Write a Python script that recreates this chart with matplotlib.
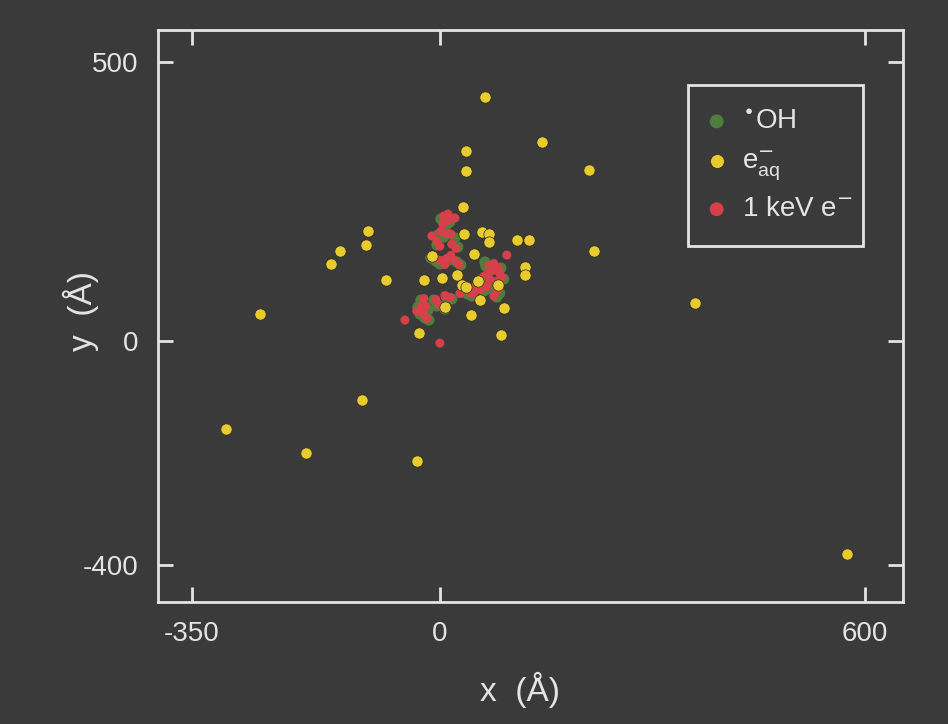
import matplotlib.pyplot as plt
from matplotlib.patches import Rectangle

plt.rcParams['font.family'] = ['Liberation Sans', 'DejaVu Sans']
plt.rcParams['axes.unicode_minus'] = False

BG = '#3a3a3a'
FG = '#e4e4e4'

# e-_aq positions (A)
eaq_x = [63.5, 36.7, 144, 36.7, 210, 32.5, 217, -102, -104.5, -141, -154, -76, -254, 361,
         -110, -302, -189, -32, 575, -30, 86,
         34, 59, 69, 69, 109, 126, 48, 120, 120, -23, 3, 24, 54, 31, 37, 82, 56, 90, 44, 7, -11]
eaq_y = [437, 340, 357, 305, 306, 240, 161, 197, 172, 161, 138, 110, 49, 69,
         -105, -157, -200, -214, -380, 15, 11,
         192, 195, 192, 178, 181, 181, 156, 133, 119, 110, 114, 119, 108, 101, 97, 101, 74, 60, 47, 61, 153]

# OH radicals
oh_x = [1.4, 8.5, 14.1, -2.8, 5.6, 21.2, 25.4, -4.2, -12.7, -5.6, 12.7, 24, 29.6, 0,
        64.9, 72, 86.1, 63.5, 60.7, 77.6, 90.3, 50.8, 62.1, 69.2, 32.5, 39.5, 45.2,
        9.9, 16.9, -8.5, -4.2, 7.1, -26.8, -31.1, -28.2, -21.2, -15.5, -16.9, 80.5, 84.7]
oh_y = [219, 206.5, 213.6, 190.4, 186.8, 185, 168.9, 172.5, 149.2, 143.9, 145.6, 142.1, 136.7, 138.5,
        134.9, 127.7, 131.3, 142.1, 111.6, 104.5, 111.6, 97.3, 90.2, 93.8, 88.4, 84.8, 81.2,
        77.7, 75.9, 74.1, 63.3, 58, 74.1, 61.5, 49, 41.9, 38.3, 56.2, 79.4, 86.6]

# 1 keV electron track
trk_x = [5.6, 11.3, 9.9, 4.2, 16.9, 1.4, 8.5, 15.5, -4.2, 0, 16.9, 22.6,
         -9.9, -4.2, 2.8, 9.9, 15.5, 21.2, 26.8, 7.1,
         69.2, 76.2, 81.9, 74.8, 66.3, 84.7, 62.1, 70.6, 80.5, 87.5, 53.6, 48, 57.9, 66.3,
         36.7, 42.3, 48, 28.2, 7.1, 14.1, -5.6, -1.4, 4.2,
         -22.6, -25.4, -28.2, -22.6, -18.4, -32.5, -19.8, 76.2, 81.9,
         -49.4, 0, 94.6, 21.2, -11.3]
trk_y = [224.4, 228, 215.4, 210, 220.8, 197.2, 193.6, 191.9, 179.3, 170.4, 174, 166.8,
         150.2, 146.6, 144.8, 148.4, 153.8, 144.8, 137.6, 137.6,
         135.9, 139.5, 132.3, 126.9, 119.8, 121.6, 116.2, 110.8, 107.2, 114.4, 101.9, 94.7, 92.9, 98.3,
         92.9, 87.5, 85.7, 85.7, 82.2, 78.6, 75, 66, 60.6,
         76.8, 64.3, 55.4, 48.3, 41.1, 54.4, 63.3, 81.2, 92,
         38.2, -2.9, 154.6, 220.8, 188.6]

xticks = [-350, 0, 600]
yticks = [-400, 0, 500]

fig = plt.figure(figsize=(9.48, 7.24), dpi=100, facecolor=BG)
ax = fig.add_axes([0.1667, 0.1685, 0.7858, 0.79])
ax.set_facecolor(BG)

ax.scatter(oh_x, oh_y, s=64, color='#4e7d3e', edgecolors='none', label=r'$^{\bullet}$OH', zorder=2)
ax.scatter(trk_x, trk_y, s=42, color='#d6404a', edgecolors='none', label=r'1 keV e$^{-}$', zorder=3)
ax.scatter(eaq_x, eaq_y, s=66, color='#e8cb2e', edgecolors='#2a2a1a', linewidths=0.5,
           label=r'e$^{-}_{\mathregular{aq}}$', zorder=4)

ax.set_xlim(-398, 654)
ax.set_ylim(-466, 557)
ax.set_xticks(xticks)
ax.set_yticks(yticks)
for s in ax.spines.values():
    s.set_color(FG)
    s.set_linewidth(2)
ax.tick_params(direction='in', length=11, width=2, colors=FG, labelsize=20,
               top=True, right=True, pad=14)
ax.set_xlabel(u'x  (\u00c5)', color=FG, fontsize=24)
ax.set_ylabel(u'y  (\u00c5)', color=FG, fontsize=24)
ax.xaxis.set_label_coords(0.486, -0.122)
ax.yaxis.set_label_coords(-0.079, 0.509)

h, l = ax.get_legend_handles_labels()
order = [0, 2, 1]
leg = ax.legend([h[i] for i in order], [l[i] for i in order], loc='center left',
                bbox_to_anchor=(0.7275, 0.763), fontsize=20, frameon=False,
                labelspacing=0.5, borderpad=0, borderaxespad=0,
                handlelength=1.2, handletextpad=0.3)
for hd in leg.legend_handles:
    hd.set_sizes([100])
for t in leg.get_texts():
    t.set_color(FG)
ax.add_patch(Rectangle((0.7114, 0.6224), 0.2349, 0.2815, transform=ax.transAxes,
                       fill=False, edgecolor=FG, linewidth=2, zorder=5))

fig.savefig('out.png', dpi=100, facecolor=BG)
